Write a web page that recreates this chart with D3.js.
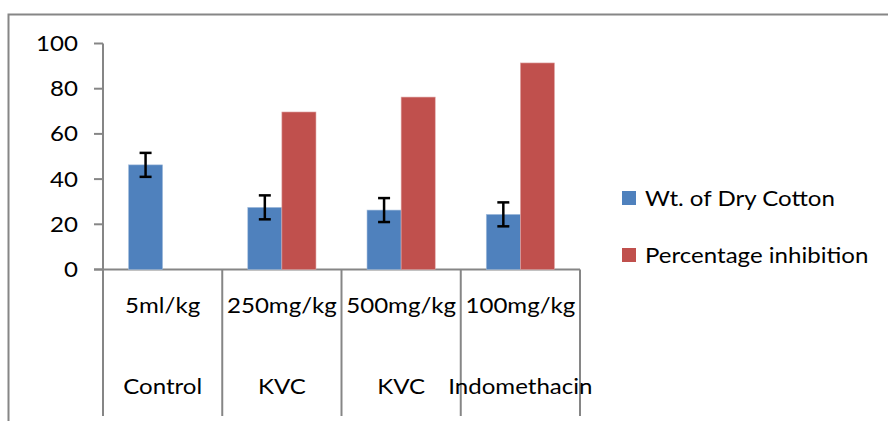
<!DOCTYPE html>
<html>
<head>
<meta charset="utf-8">
<script src="https://cdn.jsdelivr.net/npm/d3@7"></script>
<style>
  html, body { margin: 0; padding: 0; background: #fff; }
  svg { display: block; }
  text { font-family: Lato, "Liberation Sans", Arial, sans-serif; fill: #000; }
</style>
</head>
<body>
<svg id="chart" width="888" height="421"></svg>
<script>
// ---- data ----
const doses = ["5ml/kg", "250mg/kg", "500mg/kg", "100mg/kg"];
const groups = ["Control", "KVC", "KVC", "Indomethacin"];
const seriesNames = ["Wt. of Dry Cotton", "Percentage inhibition"];
const dryCotton = [46.3, 27.5, 26.3, 24.4];
const dryCottonErr = [5.3, 5.3, 5.3, 5.3];
const inhibition = [null, 69.7, 76.3, 91.4];
const yTicks = [0, 20, 40, 60, 80, 100];
const colors = ["#4F81BD", "#C0504D"];

// ---- layout ----
const svg = d3.select("#chart");
const stretch = 1.12;
const fontSize = 21.5;
const axisColor = "#868686";

const plot = { left: 103, right: 580, top: 43.5, bottom: 269.5 };
const idx = d3.range(doses.length);

const x = d3.scaleBand().domain(idx).range([plot.left, plot.right]).paddingInner(0).paddingOuter(0);
const x1 = d3.scaleBand().domain([0, 1]).range([x.bandwidth() * 0.214, x.bandwidth() * 0.786]);
const y = d3.scaleLinear().domain([0, 100]).range([plot.bottom, plot.top]);

// outer chart border (clipped by window)
svg.append("rect")
  .attr("x", 8.5).attr("y", 14.5)
  .attr("width", 1000).attr("height", 1000)
  .attr("fill", "none").attr("stroke", axisColor).attr("stroke-width", 2);

function stretchedText(sel, tx, ty, str, anchor) {
  return sel.append("text")
    .attr("transform", `translate(${tx},${ty}) scale(${stretch},1)`)
    .attr("text-anchor", anchor)
    .attr("font-size", fontSize)
    .text(str);
}

// y axis
const yAxis = svg.append("g");
yAxis.append("line")
  .attr("x1", plot.left).attr("x2", plot.left)
  .attr("y1", y(100)).attr("y2", y(0))
  .attr("stroke", axisColor).attr("stroke-width", 2);
yTicks.forEach(t => {
  yAxis.append("line")
    .attr("x1", plot.left - 9).attr("x2", plot.left)
    .attr("y1", y(t)).attr("y2", y(t))
    .attr("stroke", axisColor).attr("stroke-width", 2);
  stretchedText(yAxis, 78, y(t) + 7.5, String(t), "end");
});

// x axis baseline
svg.append("line")
  .attr("x1", plot.left - 9).attr("x2", plot.right)
  .attr("y1", y(0)).attr("y2", y(0))
  .attr("stroke", axisColor).attr("stroke-width", 2);

// category separators (multi-level axis)
const bounds = idx.map(i => x(i)).concat([x(idx[idx.length - 1]) + x.bandwidth()]);
bounds.forEach(b => {
  svg.append("line")
    .attr("x1", b).attr("x2", b)
    .attr("y1", y(0)).attr("y2", 416)
    .attr("stroke", axisColor).attr("stroke-width", 2);
});

// category labels
idx.forEach(i => {
  const cx = x(i) + x.bandwidth() / 2;
  stretchedText(svg, cx, 313, doses[i], "middle");
  stretchedText(svg, cx, 394, groups[i], "middle");
});

// bars
const series = [dryCotton, inhibition];
series.forEach((vals, s) => {
  svg.append("g").selectAll("rect")
    .data(idx.filter(i => vals[i] != null))
    .join("rect")
    .attr("x", i => x(i) + x1(s))
    .attr("width", x1.bandwidth())
    .attr("y", i => y(vals[i]))
    .attr("height", i => y(0) - y(vals[i]))
    .attr("fill", colors[s])
    .attr("stroke", s === 0 ? "#A7C0DE" : "#E0A9A8")
    .attr("stroke-width", 0.6);
});

// error bars
const eg = svg.append("g").attr("stroke", "#000").attr("stroke-width", 2.5);
idx.forEach(i => {
  const cx = x(i) + x1(0) + x1.bandwidth() / 2;
  const hi = y(dryCotton[i] + dryCottonErr[i]);
  const lo = y(dryCotton[i] - dryCottonErr[i]);
  eg.append("line").attr("x1", cx).attr("x2", cx).attr("y1", hi).attr("y2", lo);
  eg.append("line").attr("x1", cx - 6).attr("x2", cx + 6).attr("y1", hi).attr("y2", hi);
  eg.append("line").attr("x1", cx - 6).attr("x2", cx + 6).attr("y1", lo).attr("y2", lo);
});

// legend
const legend = svg.append("g");
seriesNames.forEach((name, s) => {
  const ly = 191 + s * 57;
  legend.append("rect")
    .attr("x", 622).attr("y", ly)
    .attr("width", 14).attr("height", 14)
    .attr("fill", colors[s]);
  stretchedText(legend, 645, ly + 14.5, name, "start");
});
</script>
</body>
</html>
